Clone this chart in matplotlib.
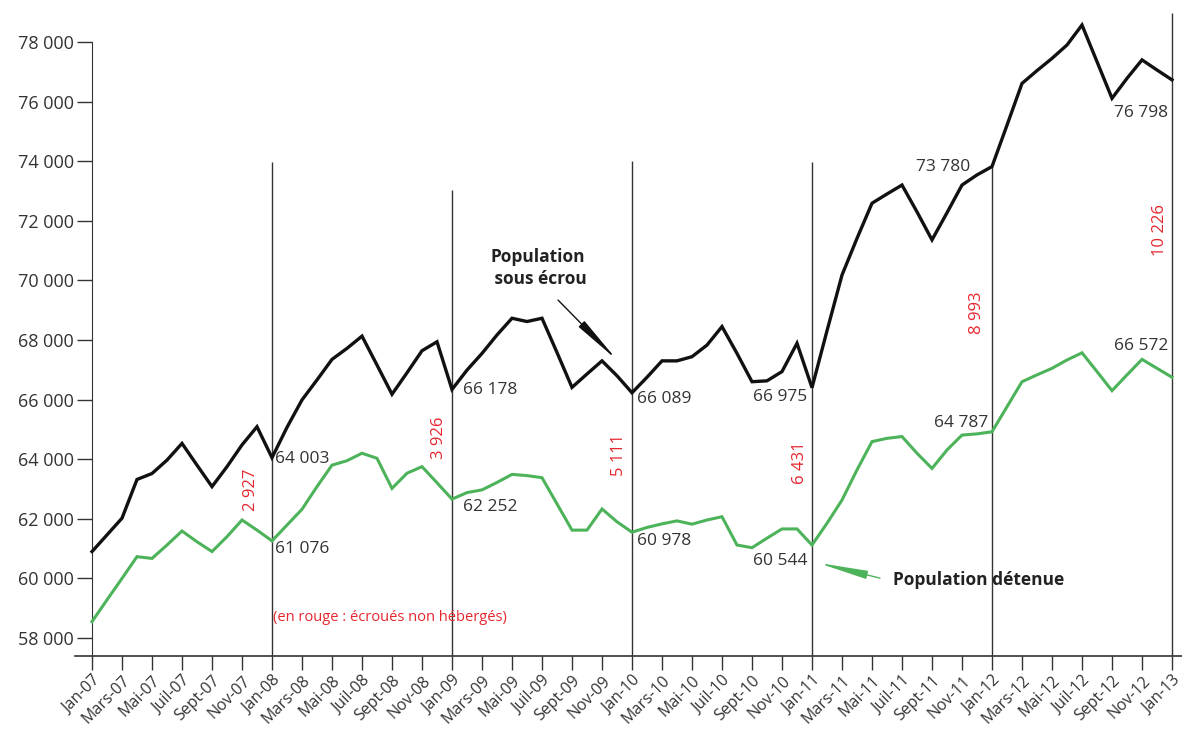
import numpy as np
import matplotlib
matplotlib.use("Agg")
import matplotlib.pyplot as plt

# ==============================================
# Data (monthly, Jan-07 .. Jan-13)
# ==============================================
months = ["Jan", "Févr", "Mars", "Avr", "Mai", "Juin",
          "Juil", "Août", "Sept", "Oct", "Nov", "Déc"]
years = ["07", "08", "09", "10", "11", "12", "13"]

sous_ecrou = [
    # 2007
    60900, 61460, 62020, 63320, 63520, 63970, 64530, 63800, 63080, 63750, 64480, 65090,
    # 2008
    64050, 65070, 65990, 66660, 67350, 67720, 68130, 67160, 66180, 66900, 67640, 67940,
    # 2009
    66340, 66990, 67550, 68170, 68730, 68620, 68730, 67580, 66410, 66860, 67300, 66800,
    # 2010
    66230, 66750, 67300, 67300, 67440, 67830, 68450, 67550, 66600, 66630, 66940, 67890,
    # 2011
    66400, 68310, 70180, 71410, 72590, 72900, 73200, 72300, 71360, 72270, 73200, 73540,
    # 2012
    73820, 75210, 76610, 77040, 77450, 77900, 78570, 77340, 76110, 76780, 77400, 77060,
    # 2013
    76730,
]

detenue = [
    # 2007
    58550, 59280, 60000, 60730, 60670, 61120, 61590, 61230, 60900, 61400, 61960, 61620,
    # 2008
    61260, 61790, 62320, 63080, 63800, 63950, 64200, 64030, 63020, 63530, 63750, 63210,
    # 2009
    62660, 62880, 62970, 63220, 63490, 63450, 63380, 62500, 61620, 61620, 62330, 61900,
    # 2010
    61550, 61710, 61830, 61930, 61820, 61960, 62070, 61120, 61030, 61350, 61660, 61660,
    # 2011
    61120, 61850, 62630, 63640, 64590, 64700, 64760, 64200, 63690, 64310, 64810, 64850,
    # 2012
    64920, 65760, 66600, 66830, 67050, 67330, 67570, 66940, 66300, 66830, 67350, 67050,
    # 2013
    66750,
]

# January values written on the chart
jan_idx = [12, 24, 36, 48, 60, 72]
jan_ecrou_labels = ["64 003", "66 178", "66 089", "66 975", "73 780", "76 798"]
jan_detenue_labels = ["61 076", "62 252", "60 978", "60 544", "64 787", "66 572"]
non_heberges = ["2 927", "3 926", "5 111", "6 431", "8 993", "10 226"]

# top of each yearly separator line
separator_tops = [73970, 73030, 74010, 73970, 73820, 78970]

yticks = list(range(58000, 78001, 2000))

# ==============================================
# Figure
# ==============================================
plt.rcParams['font.family'] = ['Open Sans', 'DejaVu Sans']

fig = plt.figure(figsize=(11.82, 7.31), dpi=100)
ax = fig.add_axes([75 / 1182, 1 - 656 / 731, 1 - 75 / 1182, (656 - 10) / 731])

x = np.arange(len(sous_ecrou))
ax.plot(x, sous_ecrou, color="#111111", lw=2.4, solid_joinstyle="miter", zorder=3)
ax.plot(x, detenue, color="#4db35a", lw=2.2, solid_joinstyle="miter", zorder=3)

ylo, yhi = 57396, 79074
ax.set_ylim(ylo, yhi)
ax.set_xlim(-17 / 15, 72 + 10 / 15)

# yearly separators
ax.vlines(jan_idx, ylo, separator_tops, color="#333333", lw=1.0, zorder=2)

# spines
for s in ["top", "right"]:
    ax.spines[s].set_visible(False)
ax.spines["left"].set_position(("data", 0))
ax.spines["left"].set_bounds(ylo, 78000)
ax.spines["left"].set_color("#333333")
ax.spines["bottom"].set_color("#333333")
ax.spines["bottom"].set_linewidth(1.2)

ax.set_yticks(yticks)
ax.set_yticklabels([f"{v:,}".replace(",", " ") for v in yticks])
ax.tick_params(axis="y", direction="out", length=11, width=1, color="#333333",
               labelsize=13, labelcolor="#333333", pad=2)

tick_pos = list(range(0, 73, 2))
tick_lab = [f"{months[i % 12]}-{years[i // 12]}" for i in tick_pos]
ax.set_xticks(tick_pos)
ax.set_xticklabels(tick_lab, rotation=45, ha="right", rotation_mode="anchor")
ax.tick_params(axis="x", direction="out", length=10, width=1, color="#333333",
               labelsize=11.5, labelcolor="#333333", pad=2)

# January value labels
lab_font = dict(fontsize=12.5, color="#333333", va="center")
ax.text(12.2, 64000, jan_ecrou_labels[0], ha="left", **lab_font)
ax.text(12.2, 61000, jan_detenue_labels[0], ha="left", **lab_font)
ax.text(24.73, 66320, jan_ecrou_labels[1], ha="left", **lab_font)
ax.text(24.73, 62400, jan_detenue_labels[1], ha="left", **lab_font)
ax.text(36.33, 66020, jan_ecrou_labels[2], ha="left", **lab_font)
ax.text(36.33, 61250, jan_detenue_labels[2], ha="left", **lab_font)
ax.text(47.67, 66090, jan_ecrou_labels[3], ha="right", **lab_font)
ax.text(47.67, 60580, jan_detenue_labels[3], ha="right", **lab_font)
ax.text(58.53, 73800, jan_ecrou_labels[4], ha="right", **lab_font)
ax.text(59.73, 65210, jan_detenue_labels[4], ha="right", **lab_font)
ax.text(71.73, 75620, jan_ecrou_labels[5], ha="right", **lab_font)
ax.text(71.73, 67800, jan_detenue_labels[5], ha="right", **lab_font)

# red: écroués non hébergés
red = "#e5262e"
red_pos = [(10.6, 62970), (23.13, 64710), (35.13, 64140),
           (47.2, 63870), (59.0, 68900), (71.2, 71690)]
for (px, py), t in zip(red_pos, non_heberges):
    ax.text(px, py, t, rotation=90, ha="center", va="center", fontsize=12, color=red)
ax.text(12.07, 58700, "(en rouge : écroués non hébergés)", ha="left", va="center",
        fontsize=10.5, color=red)

# series annotations
ax.text(29.73, 70420, "Population\n sous écrou", ha="center", va="center",
        fontsize=12.5, fontweight="bold", color="#222222", linespacing=1.25)
ax.annotate("", xy=(35.0, 67330), xytext=(31.07, 69340),
            arrowprops=dict(arrowstyle="-|>,head_length=3.0,head_width=0.25",
                            color="#111111", lw=1.0, shrinkA=0, shrinkB=0))

ax.text(53.4, 59950, "Population détenue", ha="left", va="center",
        fontsize=12.5, fontweight="bold", color="#222222")
ax.annotate("", xy=(48.4, 60520), xytext=(52.53, 60010),
            arrowprops=dict(arrowstyle="-|>,head_length=3.0,head_width=0.25",
                            color="#4db35a", lw=1.0, shrinkA=0, shrinkB=0))

fig.savefig("out.png", dpi=100)
